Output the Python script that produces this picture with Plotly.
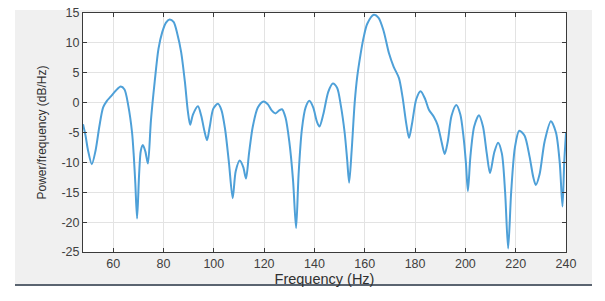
import plotly.graph_objects as go

freq_hz = [48, 49, 50, 51.5, 53, 54.5, 56, 57.5, 59, 61, 63, 64.5, 66, 67.5, 68.2, 68.8, 69.5, 70.3, 71, 71.8,
           72.8, 73.8, 75, 76.5, 78, 79.5, 81, 82.4, 84, 85.5, 87, 88.5, 89.7, 90.6, 91.7, 93.7, 95, 96.3,
           97.3, 98.4, 99.8, 101.6, 103, 104.5, 106, 107.5, 108.7, 110.3, 111.7, 112.8, 114, 115.5, 117.5,
           119.8, 121.5, 123, 124.5, 126, 127.1, 128.5, 130, 131.5, 132.7, 133.7, 135, 136.5, 138, 139.5,
           141, 142, 143.5, 145.5, 147.3, 149, 150.5, 152, 153, 153.8, 154.8, 156, 157, 158.3, 159.6, 161,
           163.6, 165.5, 167.5, 169.6, 171.5, 173.6, 175, 176.5, 177.6, 178.8, 180.5, 182.2, 184, 185.5,
           187.5, 189, 190.5, 191.8, 193, 194.5, 196.4, 198, 199.2, 200.2, 201.0, 202, 203.5, 205.4, 207,
           208.5, 209.8, 211.5, 213, 214.5, 215.8, 217.0, 218.2, 219.7, 221.4, 223.5, 225.5, 227, 228,
           229.5, 231.5, 234, 236, 237.5, 238.6, 239.3, 240]
power_db = [-3.6, -5.5, -8.0, -10.3, -8.0, -4.0, -0.8, 0.3, 1.0, 2.0, 2.7, 2.2, -0.5, -5.0, -9.0, -13.5, -19.4,
            -12, -8.0, -7.1, -8.2, -10.2, -3.0, 3.5, 9.0, 11.8, 13.4, 13.9, 13.5, 11.5, 8.5, 3.5, -1.5, -3.7,
            -2.0, -0.6, -2.2, -4.8, -6.3, -4.0, -1.0, -0.2, -1.2, -4.5, -10, -16.0, -11.5, -9.7, -10.8, -12.7,
            -8.5, -4.0, -0.8, 0.2, -0.3, -1.3, -1.8, -1.3, -1.1, -2.5, -6.5, -13, -21.0, -12, -4.5, -0.8, 0.3,
            -0.8, -3.2, -4.0, -2.0, 1.8, 3.2, 2.5, -0.5, -5, -9.5, -13.4, -8, 0, 4.3, 8, 11, 13.2, 14.7, 14.2,
            12, 8.3, 6, 4.1, 1.0, -3.5, -5.9, -3.5, 0.6, 1.9, 0.6, -1.2, -2.4, -3.8, -6.5, -8.6, -6.5, -2.2,
            -0.4, -2, -5.5, -10, -14.8, -9, -4, -2.1, -4, -8.5, -11.8, -8.3, -6.7, -8.5, -15, -24.4, -15, -7.5,
            -4.7, -5.5, -9, -12.5, -13.8, -12, -6.5, -3.1, -5, -10, -17.4, -10, -5.1]

x_ticks = [60, 80, 100, 120, 140, 160, 180, 200, 220, 240]
y_ticks = [-25, -20, -15, -10, -5, 0, 5, 10, 15]

fig = go.Figure()
fig.add_trace(go.Scatter(x=freq_hz, y=power_db, mode="lines",
                         line=dict(color="rgb(78,160,216)", width=2, shape="spline", smoothing=0.8),
                         showlegend=False, hoverinfo="skip"))

# MATLAB-like figure background panel
fig.add_shape(type="rect", xref="paper", yref="paper", x0=-0.1408, x1=1.0538, y0=-0.138, y1=1.0126,
              fillcolor="#f0f0f0", line=dict(width=0), layer="below")
fig.add_shape(type="rect", xref="paper", yref="paper", x0=0, x1=1, y0=0, y1=1,
              fillcolor="white", line=dict(width=0), layer="below")
fig.add_shape(type="line", xref="paper", yref="paper", x0=-0.1408, x1=1.0538, y0=-0.138, y1=-0.138,
              line=dict(color="#5a6470", width=2))

axis_common = dict(showline=True, linecolor="#3a3a3a", linewidth=1, mirror="ticks",
                   ticks="inside", ticklen=4, tickcolor="#3a3a3a",
                   showgrid=True, gridcolor="#e3e3e3", gridwidth=1, zeroline=False,
                   ticklabeloverflow="allow",
                   tickfont=dict(family="Liberation Sans, Arial", size=12.5, color="#404040"))

fig.update_xaxes(range=[48, 240], tickvals=x_ticks, ticktext=[str(v) for v in x_ticks],
                 title=dict(text="Frequency (Hz)", standoff=0,
                            font=dict(family="Liberation Sans, Arial", size=14.5, color="#303030")),
                 **axis_common)
fig.update_yaxes(range=[-25, 15], tickvals=y_ticks, ticktext=[str(v) for v in y_ticks],
                 title=dict(text="Power/frequency (dB/Hz)", standoff=12,
                            font=dict(family="Liberation Sans, Arial", size=12, color="#303030")),
                 **axis_common)

fig.update_layout(width=605, height=301, margin=dict(l=83, r=39, t=13, b=49, autoexpand=False),
                  paper_bgcolor="white", plot_bgcolor="rgba(0,0,0,0)")

# remove the default 8px page margin so the figure fills the window exactly
fig.write_html("out.html", config={"displayModeBar": False, "staticPlot": True},
               post_script="document.body.style.margin='0';document.body.style.overflow='hidden';")
